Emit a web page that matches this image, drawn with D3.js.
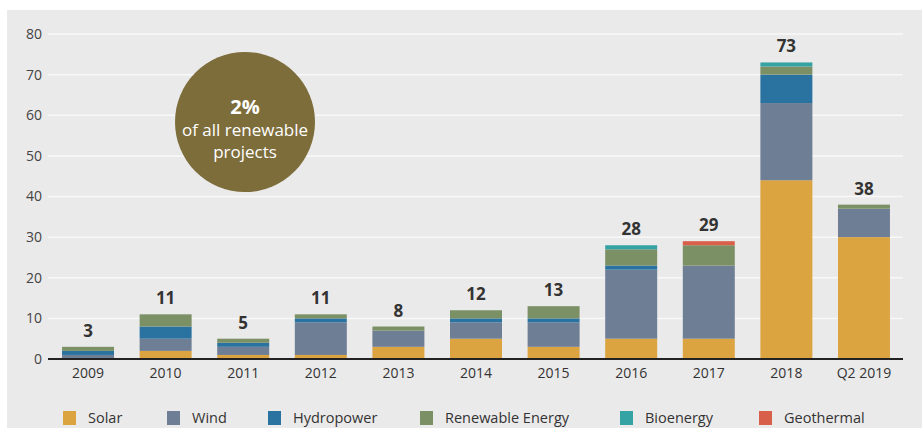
<!DOCTYPE html>
<html>
<head>
<meta charset="utf-8">
<script src="https://cdn.jsdelivr.net/npm/d3@7/dist/d3.min.js"></script>
<style>
  html, body { margin: 0; padding: 0; background: #ffffff; }
  svg { display: block; }
  text { font-family: "Open Sans", "Noto Sans", sans-serif; }
</style>
</head>
<body>
<svg id="chart" width="922" height="428"></svg>
<script>
// Renewable projects per year, split by technology
const years = ["2009", "2010", "2011", "2012", "2013", "2014", "2015", "2016", "2017", "2018", "Q2 2019"];
const solar      = [0, 2, 1, 1, 3, 5, 3, 5, 5, 44, 30];
const wind       = [1, 3, 2, 8, 4, 4, 6, 17, 18, 19, 7];
const hydropower = [1, 3, 1, 1, 0, 1, 1, 1, 0, 7, 0];
const renewable  = [1, 3, 1, 1, 1, 2, 3, 4, 5, 2, 1];
const bioenergy  = [0, 0, 0, 0, 0, 0, 0, 1, 0, 1, 0];
const geothermal = [0, 0, 0, 0, 0, 0, 0, 0, 1, 0, 0];
const totals     = [3, 11, 5, 11, 8, 12, 13, 28, 29, 73, 38];
const yTicks     = [0, 10, 20, 30, 40, 50, 60, 70, 80];

const seriesNames = ["Solar", "Wind", "Hydropower", "Renewable Energy", "Bioenergy", "Geothermal"];
const seriesValues = [solar, wind, hydropower, renewable, bioenergy, geothermal];
const colors = ["#dca441", "#6e7e95", "#2a72a0", "#7c9066", "#35a3a4", "#d8604a"];

const rows = years.map((y, i) => {
  const r = { year: y };
  seriesNames.forEach((s, k) => { r[s] = seriesValues[k][i]; });
  return r;
});

const svg = d3.select("#chart");

// panel background
svg.append("rect").attr("x", 7).attr("y", 10).attr("width", 915).attr("height", 418).attr("fill", "#ebeaea");

const x = d3.scaleBand().domain(years).range([49, 903]).paddingInner(0.33).paddingOuter(0.168);
const y = d3.scaleLinear().domain([0, 80]).range([359, 34]);

// horizontal gridlines
svg.append("g").selectAll("line").data(yTicks.filter(t => t > 0)).join("line")
  .attr("x1", 48).attr("x2", 903)
  .attr("y1", d => y(d)).attr("y2", d => y(d))
  .attr("stroke", "#f8f8f8").attr("stroke-width", 1.5);

// y axis labels
const yAxis = d3.axisLeft(y).tickValues(yTicks).tickSize(0).tickPadding(6);
const gy = svg.append("g").attr("transform", "translate(49,0)").call(yAxis);
gy.select(".domain").remove();
gy.selectAll("text").attr("font-size", 14).attr("fill", "#444").attr("dx", "-1")
  .style("font-family", "'Open Sans', sans-serif");

// stacked bars
const stack = d3.stack().keys(seriesNames)(rows);
svg.append("g").selectAll("g").data(stack).join("g")
  .attr("fill", (d, i) => colors[i])
  .selectAll("rect").data(d => d).join("rect")
  .attr("x", d => x(d.data.year))
  .attr("width", x.bandwidth())
  .attr("y", d => y(d[1]))
  .attr("height", d => y(d[0]) - y(d[1]));

// baseline
svg.append("line").attr("x1", 48).attr("x2", 903).attr("y1", y(0)).attr("y2", y(0))
  .attr("stroke", "#222").attr("stroke-width", 2);

// x axis labels
const xAxis = d3.axisBottom(x).tickSize(0).tickPadding(0);
const gx = svg.append("g").attr("transform", `translate(0,${y(0) + 9})`).call(xAxis);
gx.select(".domain").remove();
gx.selectAll("text").attr("font-size", 14).attr("fill", "#333")
  .style("font-family", "'Open Sans', sans-serif");

// total labels
svg.append("g").selectAll("text").data(years).join("text")
  .attr("x", d => x(d) + x.bandwidth() / 2)
  .attr("y", (d, i) => y(totals[i]) - 10)
  .attr("text-anchor", "middle")
  .attr("font-size", 17).attr("font-weight", 700).attr("fill", "#333")
  .text((d, i) => totals[i]);

// callout bubble
const bubble = svg.append("g").attr("transform", "translate(245,122)");
bubble.append("circle").attr("r", 70).attr("fill", "#7d6d3b");
bubble.append("text").attr("y", -8).attr("text-anchor", "middle")
  .attr("font-size", 20).attr("font-weight", 700).attr("fill", "#fff").text("2%");
bubble.append("text").attr("y", 14).attr("text-anchor", "middle")
  .attr("font-size", 17).attr("fill", "#fff").text("of all renewable");
bubble.append("text").attr("y", 36).attr("text-anchor", "middle")
  .attr("font-size", 17).attr("fill", "#fff").text("projects");

// legend
const legendX = [63, 167, 268, 420, 620, 759];
const legend = svg.append("g").selectAll("g").data(seriesNames).join("g")
  .attr("transform", (d, i) => `translate(${legendX[i]},411)`);
legend.append("rect").attr("width", 13).attr("height", 14).attr("fill", (d, i) => colors[i]);
legend.append("text").attr("x", 25).attr("y", 12)
  .attr("font-size", 14.5).attr("fill", "#333")
  .text(d => d);
</script>
</body>
</html>
